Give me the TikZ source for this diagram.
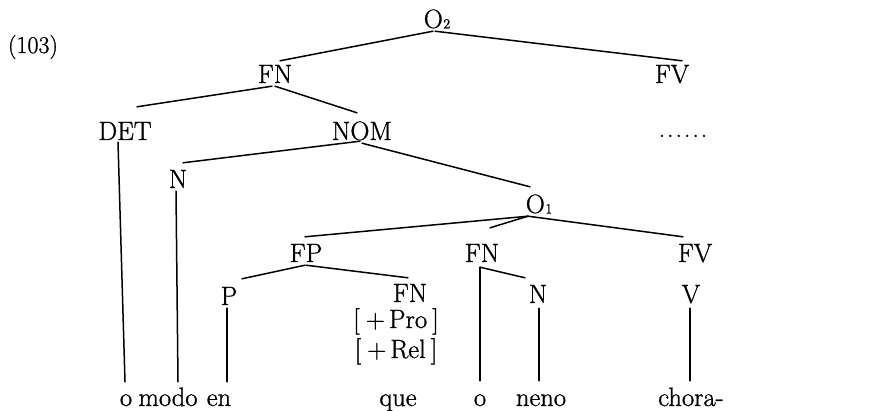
\documentclass[tikz,border=0pt]{standalone}
\usepackage{fontspec}
\newfontfamily\labfont{Latin Modern Roman}[FakeBold=1]
\newcommand\Osub[1]{O\kern0.5pt\raisebox{-0.5pt}{\fontsize{14}{14}\selectfont #1}}
\begin{document}
\begin{tikzpicture}[x=1pt,y=-1pt,
  lab/.style={anchor=base,inner xsep=0pt,inner ysep=3pt,text height=19pt,text depth=0pt,font=\labfont\fontsize{26.5}{30}\selectfont},
  edge/.style={line width=1.5pt,line cap=round}]
\useasboundingbox (0,0) rectangle (895,411);
\fill[white] (0,0) rectangle (895,411);

% example number
\node[lab,font=\labfont\fontsize{24}{28}\selectfont] (num) at (33,53) {(103)};

% nodes
\node[lab] (O2)  at (437,28)  {\Osub{2}};
\node[lab] (FNa) at (275,83)  {FN};
\node[lab] (FVa) at (672,83)  {FV};
\node[lab] (DET) at (125,140) {DET};
\node[lab] (NOM) at (362,140) {NOM};
\node[lab] (dots) at (683,137) {.\kern1.8pt.\kern1.8pt.\kern1.8pt.\kern1.8pt.\kern1.8pt.};
\node[lab] (Na)  at (178,188) {N};
\node[lab] (O1)  at (539,213) {\Osub{1}};
\node[lab] (FP)  at (306,262) {FP};
\node[lab] (FNb) at (482,262) {FN};
\node[lab] (FVb) at (695,262) {FV};
\node[lab] (P)   at (229,305) {P};
\node[lab] (FNc) at (410,302) {FN};
\node[lab] (pro) at (396,328) {[\kern6pt+\kern4pt Pro\kern5pt]};
\node[lab] (rel) at (396,358) {[\kern6pt+\kern4pt Rel\kern5pt]};
\node[lab] (Nb)  at (538,303) {N};
\node[lab] (V)   at (691,303) {V};

% words
\node[lab] (w1) at (126,406) {o};
\node[lab] (w2) at (168,406) {modo};
\node[lab] (w3) at (219,406) {en};
\node[lab] (w4) at (398,406) {que};
\node[lab] (w5) at (480,406) {o};
\node[lab] (w6) at (541,406) {neno};
\node[lab] (w7) at (691,406) {chora-};

% connectors
\draw[edge] ([xshift=-4pt]O2.south) -- ([xshift=5pt]FNa.north);
\draw[edge] ([xshift=-2pt]O2.south) -- ([xshift=10pt]FVa.north);
\draw[edge] ([xshift=-3pt]FNa.south) -- ([xshift=12pt,yshift=11pt]DET.north);
\draw[edge] (FNa.south) -- ([xshift=-5pt,yshift=5pt]NOM.north);
\draw[edge] ([xshift=-7pt,yshift=1pt]DET.south) -- ([xshift=-1pt,yshift=2pt]w1.north);
\draw[edge] ([xshift=-2pt,yshift=2pt]NOM.south) -- ([xshift=5pt,yshift=3pt]Na.north);
\draw[edge] (NOM.south) -- ([xshift=-9pt,yshift=4pt]O1.north);
\draw[edge] ([xshift=-2pt]Na.south) -- ([xshift=10pt,yshift=2pt]w2.north);
\draw[edge] ([xshift=-11pt]O1.south) -- ([xshift=-1pt,yshift=3pt]FP.north);
\draw[edge] ([xshift=-11pt]O1.south) -- ([xshift=8pt,yshift=12pt]FNb.north);
\draw[edge] ([xshift=-11pt]O1.south) -- ([xshift=-12pt,yshift=3pt]FVb.north);
\draw[edge] ([xshift=-1pt]FP.south) -- ([xshift=13pt,yshift=4pt]P.north);
\draw[edge] (FP.south) -- ([xshift=-2pt,yshift=2pt]FNc.north);
\draw[edge] ([xshift=-2pt]P.south) -- ([xshift=8pt,yshift=2pt]w3.north);
\draw[edge] ([xshift=-2pt,yshift=-2pt]FNb.south) -- ([yshift=3pt]w5.north);
\draw[edge] ([xshift=-2pt,yshift=-2pt]FNb.south) -- ([xshift=-13pt,yshift=3pt]Nb.north);
\draw[edge] ([xshift=1pt,yshift=-2pt]Nb.south) -- ([xshift=-2pt,yshift=3pt]w6.north);
\draw[edge] ([xshift=-1pt,yshift=-2pt]V.south) -- ([xshift=-1pt,yshift=3pt]w7.north);
\end{tikzpicture}
\end{document}
